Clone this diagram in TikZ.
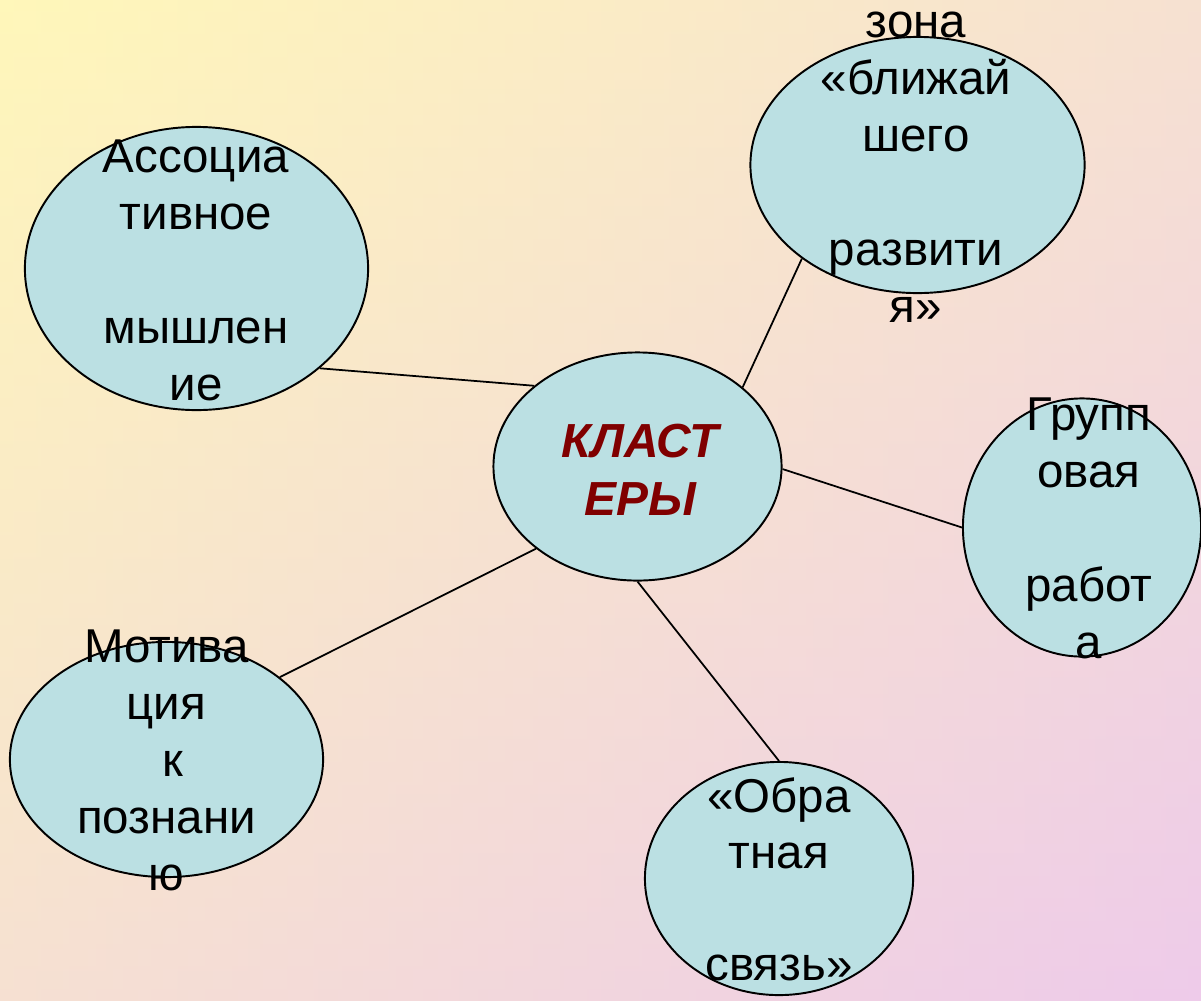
\documentclass[tikz,border=0pt]{standalone}
\usepackage{fontspec}
\setmainfont{Liberation Sans}
\usetikzlibrary{shapes.geometric}
\definecolor{bubblefill}{RGB}{187,224,227}
\definecolor{bgyellow}{RGB}{255,247,186}
\definecolor{bgpink}{RGB}{238,203,234}
\definecolor{clusterred}{RGB}{128,0,0}
\newcommand\bubbletext[2]{\vtop{\baselineskip=#1\lineskiplimit=-100pt\lineskip=0pt\halign{\hfil##\hfil\cr#2\crcr}}}
\begin{document}
\begin{tikzpicture}[x=0.01cm,y=-0.01cm,
  bubble/.style={ellipse,draw=black,line width=0.55pt,fill=bubblefill,inner sep=0pt},
  bubblelabel/.style={anchor=base,inner sep=0pt,font=\fontsize{13.5}{16.2}\selectfont},
  link/.style={draw=black,line width=0.5pt}]
\path[use as bounding box] (0,0) rectangle (1201,1000);
\shade[left color=bgyellow,right color=bgpink] (0,0) rectangle (1201,1000);
\shade[top color=bgyellow,bottom color=bgpink,opacity=0.5] (0,0) rectangle (1201,1000);
% bubbles
\node[bubble,minimum width=3.43cm,minimum height=2.83cm] (assoc) at (196.5,268.5) {};
\node[bubble,minimum width=3.34cm,minimum height=2.56cm] (zone) at (917.5,165) {};
\node[bubble,minimum width=2.88cm,minimum height=2.28cm] (center) at (637.5,466.5) {};
\node[bubble,minimum width=2.38cm,minimum height=2.58cm] (group) at (1082,527.5) {};
\node[bubble,minimum width=3.13cm,minimum height=2.35cm] (motiv) at (166.5,759.5) {};
\node[bubble,minimum width=2.68cm,minimum height=2.33cm] (feedback) at (779,878.5) {};
% connectors
\draw[link] (assoc.-39.3) -- (center.142.2);
\draw[link] (zone.-141.5) -- (center.37.5);
\draw[link] (center.-1) -- (group.180);
\draw[link] (center.-141) -- (motiv.36.8);
\draw[link] (center.-90) -- (feedback.90);
% texts
\node[bubblelabel] (assoct) at (196,172) {\bubbletext{16.22pt}{Ассоциа\cr тивное\cr\cr мышлен\cr ие}};
\node[bubblelabel] (zonet) at (916,37) {\bubbletext{16.22pt}{зона\cr «ближай\cr шего\cr\cr развити\cr я»}};
\node[bubblelabel] (groupt) at (1089,430) {\bubbletext{16.22pt}{Групп\cr овая\cr\cr работ\cr а}};
\node[bubblelabel] (motivt) at (166.5,662) {\bubbletext{16.22pt}{Мотива\cr ция\cr\ к\cr познани\cr ю}};
\node[bubblelabel] (feedbackt) at (779,812) {\bubbletext{16pt}{«Обра\cr тная\cr\cr связь»}};
\node[anchor=base,inner sep=0pt,font=\fontsize{13.6}{16.5}\selectfont\bfseries\itshape,text=clusterred] (centert) at (640,457) {\bubbletext{16.5pt}{КЛАСТ\cr ЕРЫ}};
\end{tikzpicture}
\end{document}
